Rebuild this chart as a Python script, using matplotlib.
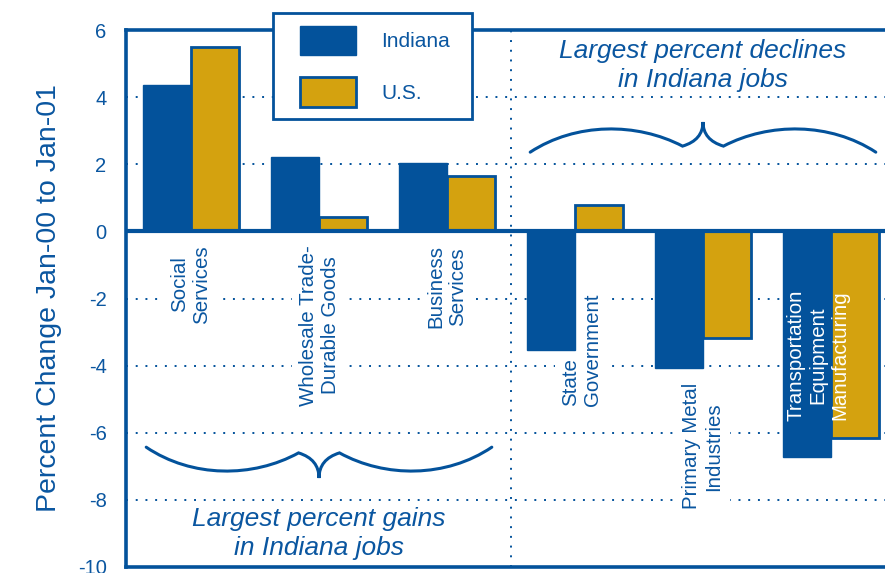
import numpy as np
import matplotlib.pyplot as plt
import matplotlib as mpl
from matplotlib.path import Path
from matplotlib.patches import PathPatch, Patch, Rectangle
from matplotlib.legend_handler import HandlerPatch

mpl.rcParams['font.family'] = ['Liberation Sans', 'DejaVu Sans']
mpl.rcParams['axes.unicode_minus'] = False

# data
categories = ["Social\nServices", "Wholesale Trade-\nDurable Goods", "Business\nServices",
              "State\nGovernment", "Primary Metal\nIndustries",
              "Transportation\nEquipment\nManufacturing"]
indiana = [4.35, 2.23, 2.03, -3.52, -4.08, -6.73]
us = [5.48, 0.42, 1.64, 0.80, -3.19, -6.17]
yticks = [-10, -8, -6, -4, -2, 0, 2, 4, 6]

blue = '#03529B'
gold = '#D4A20F'
txt = '#0A56A0'


def brace(ax, xc, half, y_end, y_arc, y_cusp, y_tip, dx_cusp=0.16):
    # curly brace made of bezier segments
    def arc(x0, x1):
        h = (8 * y_arc - y_end - y_cusp) / 6.0
        w = x1 - x0
        return [(x0 + 0.3 * w, h), (x1 - 0.3 * w, h), (x1, y_cusp)]
    xl, xr = xc - half, xc + half
    verts = [(xl, y_end)]
    codes = [Path.MOVETO]
    verts += arc(xl, xc - dx_cusp); codes += [Path.CURVE4] * 3
    ctrl = y_cusp + (y_tip - y_cusp) * 0.25
    verts += [(xc, ctrl), (xc, y_tip)]; codes += [Path.CURVE3] * 2
    verts += [(xc, ctrl), (xc + dx_cusp, y_cusp)]; codes += [Path.CURVE3] * 2
    a2 = arc(xr, xc + dx_cusp)
    verts += [a2[1], a2[0], (xr, y_end)]; codes += [Path.CURVE4] * 3
    ax.add_patch(PathPatch(Path(verts, codes), facecolor='none', edgecolor=blue,
                           lw=2.2, zorder=4, capstyle='round'))


def shifted_patch(legend, orig_handle, xdescent, ydescent, width, height, fontsize):
    off = 0.2 * width
    return Rectangle((-xdescent + off, -ydescent), width - off, height)


fig = plt.figure(figsize=(8.85, 5.73), dpi=100)
ax = fig.add_axes([126 / 885, 6 / 573, 759 / 885, 537 / 573])

x = np.arange(len(categories))
w = 0.375
ax.bar(x - w / 2, indiana, w, color=blue, edgecolor=blue, lw=1, zorder=3, label='Indiana')
ax.bar(x + w / 2, us, w, color=gold, edgecolor=blue, lw=2, zorder=3, label='U.S.')

ax.set_xlim(-0.508, 5.422)
ax.set_ylim(-10, 6)
ax.set_xticks([])
ax.set_yticks(yticks)
ax.set_yticklabels([str(t) for t in yticks], color=txt, fontsize=14.5)
ax.tick_params(axis='y', length=0, pad=14)

for t in [-8, -6, -4, -2, 2, 4]:
    ax.axhline(t, color=blue, lw=1.4, ls=(0, (1, 4)), zorder=1)
ax.axvline(2.5, color=blue, lw=1.4, ls=(0, (1, 4)), zorder=1)
ax.axhline(0, color=blue, lw=3, zorder=5)

for s in ['left', 'top', 'bottom']:
    ax.spines[s].set_color(blue)
    ax.spines[s].set_linewidth(2.6)
ax.spines['right'].set_visible(False)

ax.set_ylabel('Percent Change Jan-00 to Jan-01', color=txt, fontsize=20.5, labelpad=11)

# category labels (layout positions)
label_x = [0, 1, 2, 3.05, 4, 4.9]
label_top = [-0.41, -0.41, -0.41, -1.84, -4.52, -1.72]
label_align = ['center', 'center', 'center', 'left', 'center', 'center']
for i, lab in enumerate(categories):
    inside = i == 5
    ax.text(label_x[i], label_top[i], lab, rotation=90, ha='center', va='top',
            multialignment=label_align[i], fontsize=14.8,
            color='white' if inside else txt, zorder=6 if inside else 2,
            bbox=None if inside else dict(boxstyle='square,pad=0.3', fc='white', ec='none'))

brace(ax, 1.0, 1.35, -6.43, -7.14, -6.60, -7.35)
brace(ax, 4.0, 1.35, 2.36, 3.05, 2.54, 3.26)

ax.text(1.0, -9.0, 'Largest percent gains\nin Indiana jobs', ha='center', va='center',
        style='italic', fontsize=19, color=txt, linespacing=1.27)
ax.text(4.0, 4.93, 'Largest percent declines\nin Indiana jobs', ha='center', va='center',
        style='italic', fontsize=19, color=txt, linespacing=1.27)

handles = [Patch(facecolor=blue, edgecolor=blue, lw=1),
           Patch(facecolor=gold, edgecolor=blue, lw=2)]
leg = ax.legend(handles, ['Indiana', 'U.S.'], loc='upper left',
                bbox_to_anchor=(273 / 885, 1 - 120 / 573, 199 / 885, 107 / 573),
                bbox_transform=fig.transFigure, mode='expand',
                borderaxespad=0, fontsize=15, frameon=True, fancybox=False, framealpha=1,
                handlelength=3.36, handleheight=1.77, labelspacing=1.1, handletextpad=1.25,
                borderpad=0.6, labelcolor=txt,
                handler_map={Patch: HandlerPatch(patch_func=shifted_patch)})
leg.get_frame().set_edgecolor(blue)
leg.get_frame().set_linewidth(2)
leg.set_zorder(10)

fig.savefig('out.png', dpi=100)
